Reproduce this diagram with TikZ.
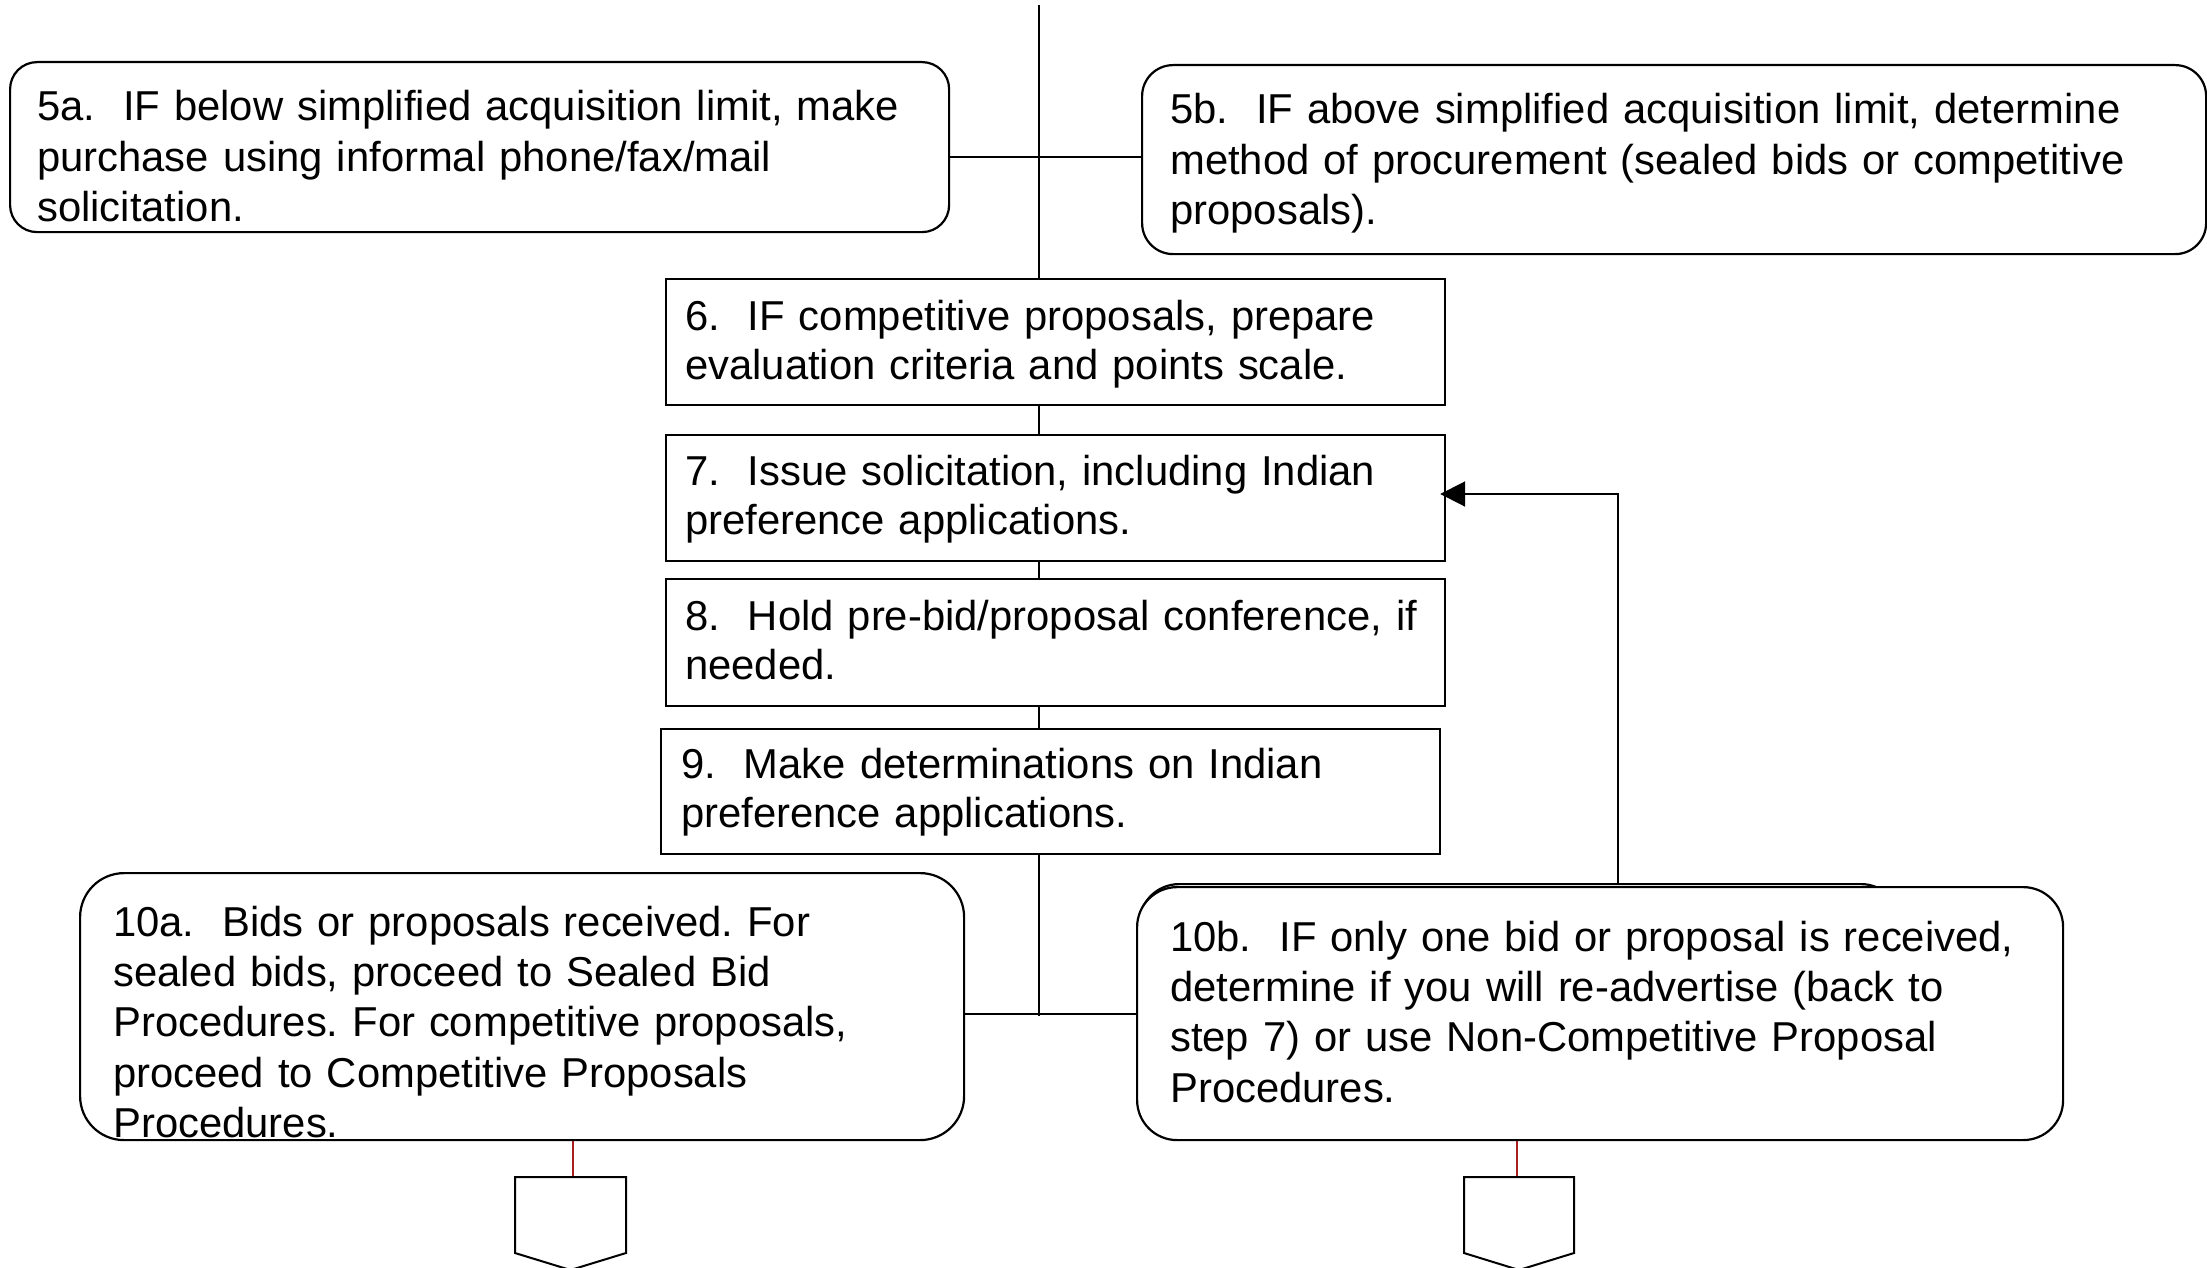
\documentclass[tikz,border=0pt]{standalone}
\usepackage{fontspec}
\setmainfont[Ligatures=NoCommon]{Liberation Sans}
\usetikzlibrary{arrows.meta}
\definecolor{linkred}{RGB}{170,30,30}
\begin{document}
\begin{tikzpicture}[x=1pt,y=-1pt,
  rbox/.style={draw, line width=2.2pt, fill=white, rounded corners=#1, inner sep=0pt, anchor=north west},
  sbox/.style={draw, line width=2.2pt, fill=white, inner sep=0pt, anchor=north west},
  txt/.style={anchor=base west, inner sep=0pt, text width=1100pt, align=left,
              font=\fontsize{41.8}{50.4}\selectfont\frenchspacing},
  stxt/.style={txt, font=\fontsize{41.8}{49.4}\selectfont\frenchspacing},
  conn/.style={line width=2pt},
  redconn/.style={line width=1.6pt, draw=linkred},
  offpage/.style={draw, line width=2pt, fill=white, line join=miter}
]
\useasboundingbox (0,0) rectangle (2207,1268);

% decision boxes at the top
\node[rbox=27pt, minimum width=939pt, minimum height=170pt] (b5a) at (9,61) {};
\node[rbox=31pt, minimum width=1064pt, minimum height=189pt] (b5b) at (1141,64) {};

% process steps
\node[sbox, minimum width=779pt, minimum height=126pt] (b6) at (665,278) {};
\node[sbox, minimum width=779pt, minimum height=126pt] (b7) at (665,434) {};
\node[sbox, minimum width=779pt, minimum height=127pt] (b8) at (665,578) {};
\node[sbox, minimum width=779pt, minimum height=125pt] (b9) at (660,728) {};

% outcome boxes
\node[rbox=44pt, minimum width=884pt, minimum height=267pt] (b10a) at (79,872) {};
\node[rbox=40pt, minimum width=762pt, minimum height=230pt] (b10g) at (1138,883) {};
\node[rbox=40pt, minimum width=926pt, minimum height=253pt] (b10b) at (1136,886) {};

% box texts
\node[txt] (t5a) at (37,121) {5a.\ \ IF below simplified acquisition limit, make\\purchase using informal phone/fax/mail\\solicitation.};
\node[txt] (t5b) at (1170,124) {5b.\ \ IF above simplified acquisition limit, determine\\method of procurement (sealed bids or competitive\\proposals).};
\node[stxt] (t6) at (685,330) {6.\ \ IF competitive proposals, prepare\\evaluation criteria and points scale.};
\node[stxt] (t7) at (685,485) {7.\ \ Issue solicitation, including Indian\\preference applications.};
\node[stxt] (t8) at (685,630) {8.\ \ Hold pre-bid/proposal conference, if\\needed.};
\node[stxt] (t9) at (681,778) {9.\ \ Make determinations on Indian\\preference applications.};
\node[txt] (t10a) at (113,936) {10a.\ \ Bids or proposals received. For\\sealed bids, proceed to Sealed Bid\\Procedures. For competitive proposals,\\proceed to Competitive Proposals\\Procedures.};
\node[txt] (t10b) at (1170,951) {10b.\ \ IF only one bid or proposal is received,\\determine if you will re-advertise (back to\\step 7) or use Non-Competitive Proposal\\Procedures.};

% main flow line
\coordinate (top) at (1039,5);
\coordinate (j5) at (1039,157);
\coordinate (j10) at (1039,1014);
\draw[conn] (top) -- (top |- b6.north);
\draw[conn] (b5a.east |- j5) -- (b5b.west |- j5);
\draw[conn] (top |- b6.south) -- (top |- b7.north);
\draw[conn] (top |- b7.south) -- (top |- b8.north);
\draw[conn] (top |- b8.south) -- (top |- b9.north);
\draw[conn] (top |- b9.south) -- ([yshift=-2pt]j10);
\draw[conn] (b10a.east |- j10) -- (b10b.west |- j10);

% loop back to step 7
\coordinate (fb) at (1618,494);
\draw[conn, shorten >=-6pt, -{Triangle[length=25pt,width=25pt]}] (fb |- b10g.north) -- (fb) -- (b7.east |- fb);

% off-page connectors
\coordinate (p1) at (573,1177);
\coordinate (p2) at (1517,1177);
\draw[redconn] (b10a.south -| p1) -- (p1);
\draw[redconn] (b10b.south -| p2) -- (p2);
\draw[offpage] (515,1177) -- (626,1177) -- (626,1253) -- (570.5,1270) -- (515,1253) -- cycle;
\draw[offpage] (1464,1177) -- (1574,1177) -- (1574,1253) -- (1519,1270) -- (1464,1253) -- cycle;
\end{tikzpicture}
\end{document}
